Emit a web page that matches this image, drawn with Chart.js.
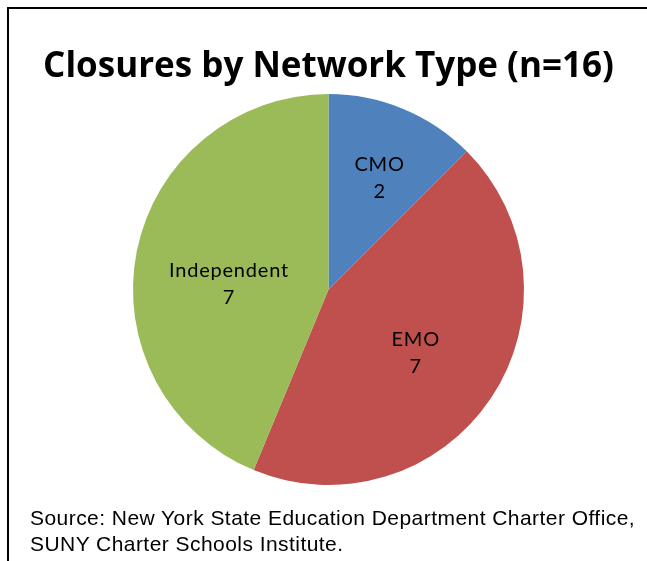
<!DOCTYPE html>
<html>
<head>
<meta charset="utf-8">
<script src="https://cdn.jsdelivr.net/npm/chart.js@4/dist/chart.umd.min.js"></script>
<style>
    html, body { margin: 0; padding: 0; background: #fff; }
    body { width: 647px; height: 561px; position: relative; overflow: hidden; }
    .frame {
        position: absolute; left: 7px; top: 7px; width: 700px; height: 600px;
        border-top: 2px solid #000; border-left: 2px solid #000;
    }
    .chart-box { position: absolute; left: 0; top: 0; width: 647px; height: 561px; }
    .source {
        position: absolute; left: 30px; top: 505px; white-space: nowrap;
        font-family: 'Liberation Sans', Arial, sans-serif; font-size: 21px; line-height: 26px;
        letter-spacing: 0.45px; color: #000;
    }
</style>
</head>
<body>
<div class="frame"></div>
<div class="chart-box"><canvas id="pie"></canvas></div>
<div class="source">Source: New York State Education Department Charter Office,<br>SUNY Charter Schools Institute.</div>
<script>
// Chart data
const categories = ['CMO', 'EMO', 'Independent'];
const closures = [2, 7, 7];
const sliceColors = ['#4F81BD', '#C0504D', '#9BBB59'];

// label placement inside each slice: fraction of radius, and turn from the mid angle (deg)
const labelRadius = [0.63, 0.55, 0.51];
const labelTurn = [2, 2, -8];

// Draw "name / value" inside each slice
const sliceLabels = {
    id: 'sliceLabels',
    afterDatasetsDraw(chart) {
        const ctx = chart.ctx;
        const meta = chart.getDatasetMeta(0);
        ctx.save();
        ctx.font = '20px Lato, sans-serif';
        ctx.letterSpacing = '0.8px';
        ctx.fillStyle = '#000';
        ctx.textAlign = 'center';
        ctx.textBaseline = 'middle';
        meta.data.forEach((arc, i) => {
            const mid = (arc.startAngle + arc.endAngle) / 2 + labelTurn[i] * Math.PI / 180;
            const r = arc.outerRadius * labelRadius[i];
            const x = arc.x + Math.cos(mid) * r;
            const y = arc.y + Math.sin(mid) * r;
            ctx.fillText(categories[i], x, y - 13);
            ctx.fillText(String(closures[i]), x, y + 14);
        });
        ctx.restore();
    }
};

new Chart(document.getElementById('pie'), {
    type: 'pie',
    data: {
        labels: categories,
        datasets: [{
            data: closures,
            backgroundColor: sliceColors,
            borderWidth: 0
        }]
    },
    options: {
        responsive: true,
        maintainAspectRatio: false,
        animation: false,
        layout: {
            padding: { left: 10, right: 0, top: 0, bottom: 76 }
        },
        plugins: {
            legend: { display: false },
            tooltip: { enabled: false },
            title: {
                display: true,
                text: 'Closures by Network Type (n=16)',
                color: '#000',
                font: { family: '"Open Sans", sans-serif', size: 35, weight: 'bold', lineHeight: 1.2 },
                padding: { top: 46, bottom: 6 }
            }
        }
    },
    plugins: [sliceLabels]
});
</script>
</body>
</html>
